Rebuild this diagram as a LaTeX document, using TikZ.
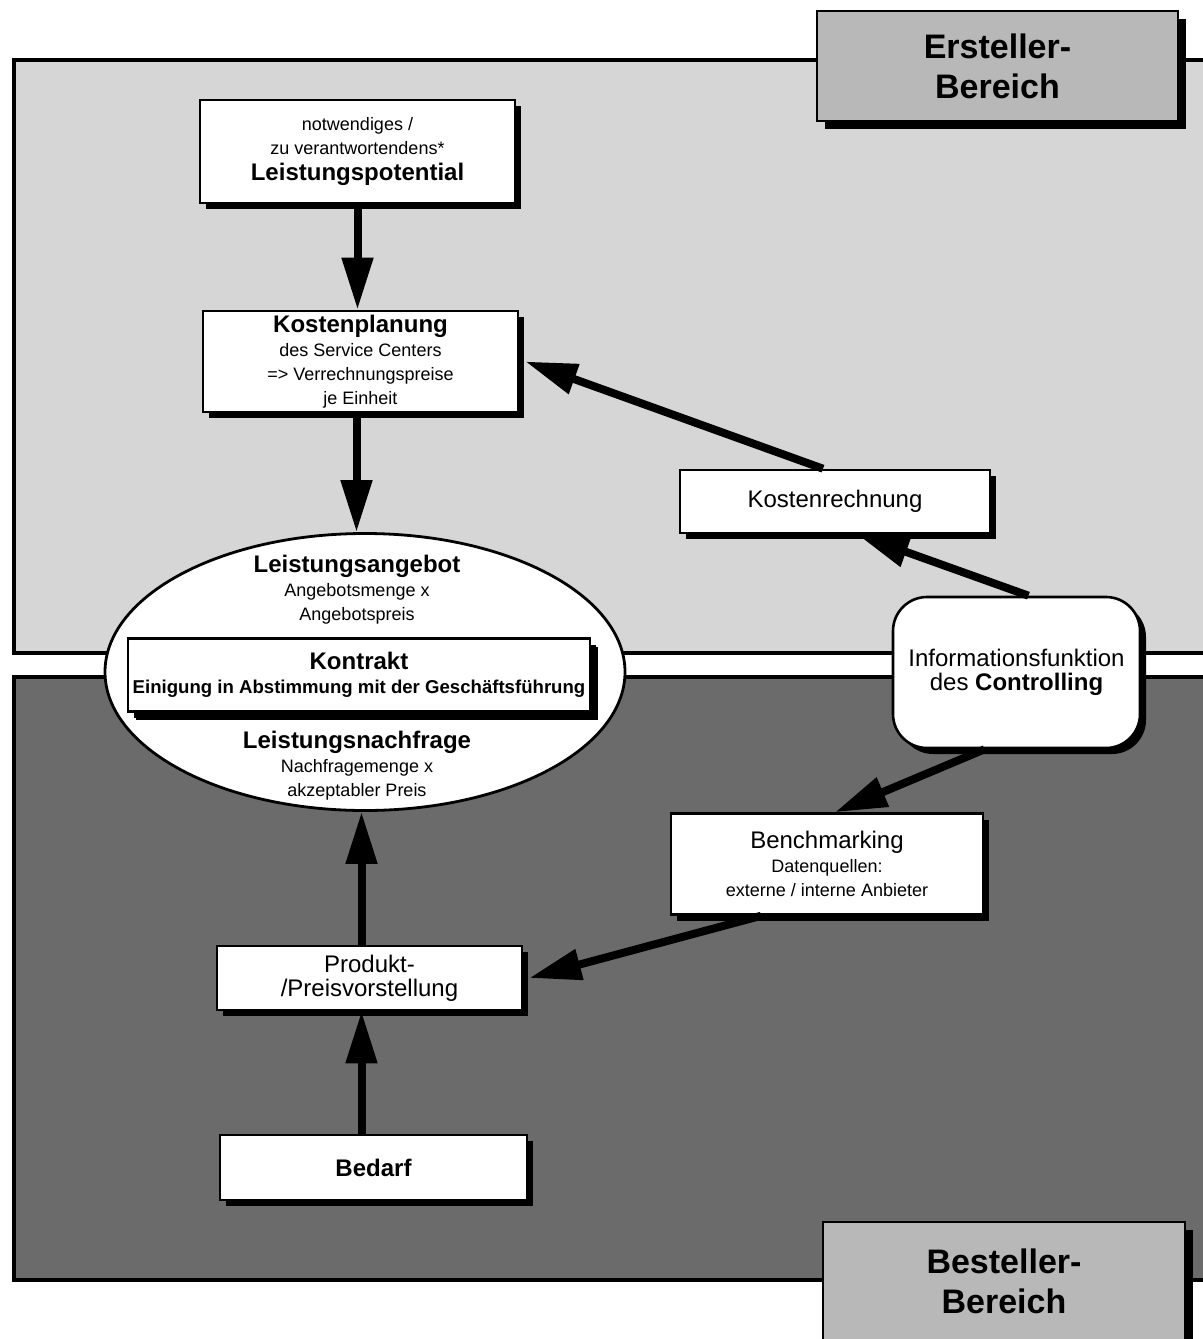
\documentclass[tikz,border=0pt]{standalone}
\usepackage{fontspec}
\setmainfont{Liberation Sans}
\usetikzlibrary{arrows.meta,shapes.geometric,shadows,calc}

\definecolor{upperbg}{gray}{0.84}
\definecolor{lowerbg}{gray}{0.42}
\definecolor{tagbg}{gray}{0.72}

\newcommand{\fsz}[2]{\fontsize{#1}{#2}\selectfont}

\tikzset{
  box/.style={draw=black, line width=1.3pt, fill=white, align=center, inner sep=2pt,
    general shadow={fill=black, shadow xshift=3pt, shadow yshift=-3pt}},
  tagbox/.style={draw=black, line width=1.3pt, fill=tagbg, align=center,
    font=\bfseries\fsz{17}{20},
    general shadow={fill=black, shadow xshift=4pt, shadow yshift=-4pt}},
  flow/.style={line width=4pt, -{Triangle[length=26pt,width=15pt]}},
  region/.style={draw=black, line width=1.6pt},
  lbl/.style={inner sep=0pt, align=center},
}

\begin{document}
\begin{tikzpicture}[x=0.5pt,y=-0.5pt]
\useasboundingbox (0,0) rectangle (1203,1339);

% two working areas
\fill[upperbg] (14,60) rectangle (1240,653);
\draw[region] (1240,60) -- (14,60) -- (14,653) -- (1240,653);
\fill[lowerbg] (14,677) rectangle (1240,1280);
\draw[region] (1240,677) -- (14,677) -- (14,1280) -- (1240,1280);

% area tags
\node[tagbox, minimum width=180.5pt, minimum height=55pt] (erst) at (997.5,66) {Ersteller-\\Bereich};
\node[tagbox, minimum width=181pt, minimum height=59pt] (best) at (1004,1281) {Besteller-\\Bereich};

% provider side
\node[box, minimum width=157.5pt, minimum height=51.5pt] (lp) at (357.5,151.5)
  {\fsz{9}{9}notwendiges /\\\fsz{9}{9}zu verantwortendens*\\[1pt]\fsz{12}{13}\bfseries Leistungspotential};
\node[box, minimum width=157.5pt, minimum height=50.5pt] (kp) at (360.5,361.5)
  {\fsz{12}{12.5}\bfseries Kostenplanung\\\fsz{9}{10}des Service Centers\\\fsz{9}{10}=> Verrechnungspreise\\\fsz{9}{10}je Einheit};
\node[box, minimum width=155pt, minimum height=31.5pt, font=\fsz{12}{14}] (kr) at (835,501.5) {Kostenrechnung};

% controlling
\node[box, rounded corners=17pt, minimum width=123.5pt, minimum height=75.5pt] (info) at (1016.5,672.5)
  {\fsz{12}{13.5}Informationsfunktion\\\fsz{12}{13.5}des \textbf{Controlling}};

% contract ellipse
\node[ellipse, draw=black, line width=1.4pt, fill=white, minimum width=260pt, minimum height=138.5pt] (ell) at (365,672) {};
\node[lbl] (angebot) at (357,590)
  {\fsz{12}{13}\bfseries Leistungsangebot\\\fsz{9}{10}Angebotsmenge x\\\fsz{9}{10}Angebotspreis};
\node[box, minimum width=231pt, minimum height=36.5pt, inner sep=0pt,
  general shadow={fill=black, shadow xshift=4pt, shadow yshift=-4pt}] (kon) at (359,675)
  {\fsz{12}{13}\bfseries Kontrakt\\\fsz{9.3}{11.5}\bfseries Einigung in Abstimmung mit der Geschäftsführung};
\node[lbl] (nachfrage) at (357,766)
  {\fsz{12}{13}\bfseries Leistungsnachfrage\\\fsz{9}{10}Nachfragemenge x\\\fsz{9}{10}akzeptabler Preis};

% customer side
\node[box, minimum width=156pt, minimum height=50.5pt] (bm) at (827,864)
  {\fsz{12}{12}Benchmarking\\\fsz{9}{10.5}Datenquellen:\\\fsz{9}{10}externe / interne Anbieter};
\node[box, minimum width=152.5pt, minimum height=32pt] (pp) at (369.5,978)
  {\fsz{12}{14}Produkt-\\\fsz{12}{14}/Preisvorstellung};
\node[box, minimum width=153.5pt, minimum height=32.5pt, font=\fsz{12}{14}\bfseries] (bed) at (373.5,1167.5) {Bedarf};

% flows
\draw[flow] (lp.south) -- (lp.south |- kp.north);
\draw[flow] ([xshift=-2pt]kp.south) -- ([xshift=-2pt]kp.south |- ell.north);
\draw[flow] ([xshift=-6pt]kr.north) -- ([xshift=3pt]kp.east);
\draw[flow] ([xshift=6pt]info.north) -- ([xshift=11pt]kr.south);
\draw[flow] ([xshift=-16pt]info.south) -- ([xshift=4pt]bm.north);
\draw[flow] ([xshift=-33pt]bm.south) -- ([xshift=3pt]pp.east);
\draw[flow] ([xshift=-4pt]pp.north) -- ([xshift=-4pt]pp.north |- ell.south);
\draw[flow] ([xshift=-6pt]bed.north) -- ([xshift=-6pt]bed.north |- pp.south);
\end{tikzpicture}
\end{document}
